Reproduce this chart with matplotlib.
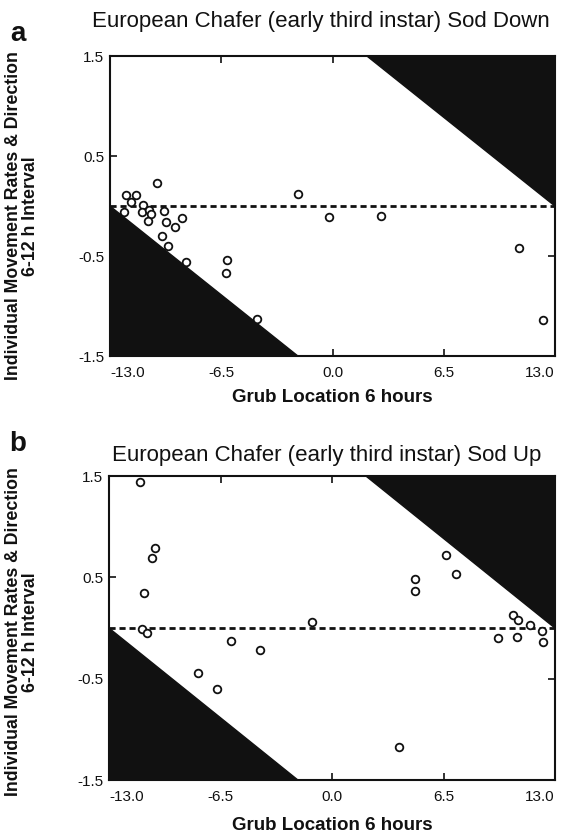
import matplotlib
matplotlib.use("Agg")
import matplotlib.pyplot as plt
from matplotlib.patches import Polygon

plt.rcParams['font.family'] = ['Liberation Sans', 'DejaVu Sans']

# ---- data ----
titles = ["European Chafer (early third instar) Sod Down",
          "European Chafer (early third instar) Sod Up"]
panel_letters = ["a", "b"]
xticks = [-13.0, -6.5, 0.0, 6.5, 13.0]
xtick_labels = ["-13.0", "-6.5", "0.0", "6.5", "13.0"]
yticks = [1.5, 0.5, -0.5, -1.5]
ytick_labels = ["1.5", "0.5", "-0.5", "-1.5"]

a_x = [-10.27, -12.08, -11.5, -11.77, -12.16, -11.05, -11.15, -10.7, -10.62, -10.76,
       -9.83, -9.73, -9.22, -8.79, -9.96, -9.59, -8.56, -6.18, -6.24, -4.39,
       -2.03, -0.2, 2.83, 10.9, 12.32]
a_y = [0.23, 0.11, 0.11, 0.04, -0.06, 0.01, -0.06, -0.04, -0.08, -0.15,
       -0.05, -0.16, -0.21, -0.12, -0.30, -0.40, -0.56, -0.54, -0.67, -1.13,
       0.12, -0.11, -0.10, -0.42, -1.14]

b_x = [-11.19, -10.3, -10.51, -10.94, -11.08, -10.77, -5.9, -4.18, -7.79, -6.72,
       -1.18, 6.65, 7.23, 4.82, 4.82, 3.91, 10.54, 10.85, 11.55, 9.7,
       10.77, 12.23, 12.32]
b_y = [1.44, 0.79, 0.69, 0.35, -0.01, -0.05, -0.13, -0.22, -0.44, -0.6,
       0.06, 0.72, 0.53, 0.48, 0.37, -1.17, 0.13, 0.08, 0.03, -0.10,
       -0.09, -0.03, -0.14]

lower_tri_x = [-13, -13, -2]
lower_tri_y = [0, -1.5, -1.5]
upper_tri_x = [13, 13, 2]
upper_tri_y = [0, 1.5, 1.5]

W, H = 568, 832
fig = plt.figure(figsize=(W / 100, H / 100), dpi=100)

# axes boxes in pixels: left, top, right, bottom
boxes = [(110, 56, 555, 356), (109, 476, 555, 780)]
datasets = [(a_x, a_y), (b_x, b_y)]

for i, ((l, t, r, b), (xs, ys)) in enumerate(zip(boxes, datasets)):
    ax = fig.add_axes([l / W, 1 - b / H, (r - l) / W, (b - t) / H])
    ax.set_xlim(-13, 13)
    ax.set_ylim(-1.5, 1.5)
    ax.add_patch(Polygon(list(zip(lower_tri_x, lower_tri_y)), closed=True,
                         facecolor='#111111', edgecolor='#111111', zorder=1))
    ax.add_patch(Polygon(list(zip(upper_tri_x, upper_tri_y)), closed=True,
                         facecolor='#111111', edgecolor='#111111', zorder=1))
    ax.plot([-13, 13], [0, 0], linestyle=(0, (2.2, 1.4)), color='#111111', lw=2.0, zorder=2)
    ax.plot(xs, ys, 'o', mfc='white', mec='#111111', ms=5.5, mew=1.3,
            linestyle='none', zorder=3)
    ax.set_xticks(xticks)
    ax.set_xticklabels(xtick_labels)
    ax.set_yticks(yticks)
    ax.set_yticklabels(ytick_labels)
    ax.tick_params(direction='in', top=True, right=True, length=5, width=1.2,
                   labelsize=11, colors='#111111')
    ax.tick_params(axis='x', pad=7)
    ax.tick_params(axis='y', pad=4)
    xl = ax.get_xticklabels()
    xl[0].set_ha('left')
    xl[-1].set_ha('right')
    for s in ax.spines.values():
        s.set_linewidth(1.5)
        s.set_color('#111111')

    # title
    fig.text(321 / W if i == 0 else 327 / W, 1 - (22 if i == 0 else 455) / H, titles[i],
             ha='center', va='center', fontsize=16, color='#111111')
    # panel letter
    fig.text(18 / W, 1 - (34 if i == 0 else 444) / H, panel_letters[i],
             ha='center', va='center', fontsize=20, fontweight='heavy', color='#111111')
    # ylabel
    fig.text(22 / W, 1 - (216 if i == 0 else 632) / H,
             "Individual Movement Rates & Direction\n6-12 h Interval",
             rotation=90, ha='center', va='center', multialignment='center',
             fontsize=12.8, fontweight='bold', color='#111111', linespacing=1.0)
    # xlabel
    fig.text(332 / W, 1 - (398 if i == 0 else 825) / H, "Grub Location 6 hours",
             ha='center', va='center', fontsize=13.5, fontweight='bold', color='#111111')

fig.savefig("out.png", dpi=100)
